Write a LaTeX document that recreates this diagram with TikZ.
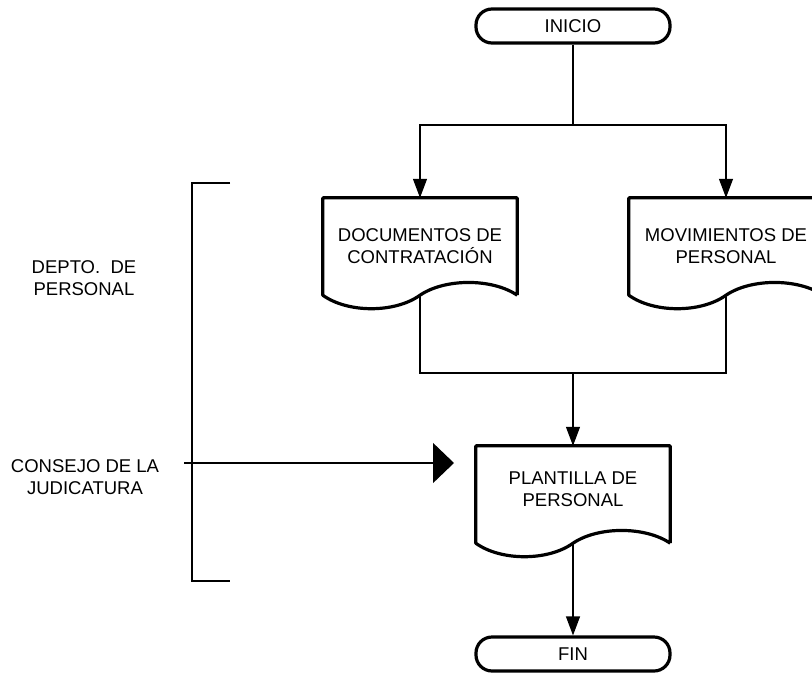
\documentclass[tikz,border=0pt]{standalone}
\usepackage{fontspec}
\setmainfont{Liberation Sans}
\usetikzlibrary{arrows.meta}

\tikzset{
    terminal/.style={draw, line width=3.2pt, rounded corners=16pt, minimum width=194pt, minimum height=34pt, inner sep=0pt},
    docnode/.style={minimum width=194pt, minimum height=97pt, inner sep=0pt, align=center},
    docborder/.style={line width=3.2pt, line join=round},
    sidelabel/.style={align=center},
    flow/.style={line width=1.2pt},
    flowarrow/.style={flow, -{Triangle[length=19pt,width=14pt]}},
    bigarrow/.style={flow, -{Triangle[length=21pt,width=40pt]}}
}

% document symbol round a docnode
\newcommand{\docoutline}[1]{%
    \draw[docborder] (#1.south east) -- (#1.north east) -- (#1.north west) -- (#1.south west)
        .. controls +(25,18) and +(-25,18) .. (#1.south)
        .. controls +(25,-17) and +(-25,-17) .. (#1.south east);
}

\begin{document}
\begin{tikzpicture}[x=1pt, y=-1pt, every node/.style={font=\fontsize{18.5}{22}\selectfont}]
    \useasboundingbox (0,0) rectangle (812,681);

    \node[terminal] (inicio) at (573,26) {INICIO};

    \node[docnode] (contrat) at (420,246.5) {DOCUMENTOS DE\\CONTRATACIÓN};
    \node[docnode] (movim) at (726,246.5) {MOVIMIENTOS DE\\PERSONAL};
    \node[docnode] (plantilla) at (573,494.5) {PLANTILLA DE\\PERSONAL\\[-12pt]};
    \docoutline{contrat}
    \docoutline{movim}
    \docoutline{plantilla}

    \node[terminal] (fin) at (573,654) {FIN};

    % left side
    \node[sidelabel] (depto) at (84,278) {DEPTO.\ \ DE\\PERSONAL};
    \node[sidelabel] (consejo) at (85,477) {CONSEJO DE LA\\JUDICATURA};
    \draw[flow] (230,183) -- (192,183) -- (192,581) -- (230,581);

    \coordinate (split) at (573,125);
    \coordinate (merge) at (573,373);
    \coordinate (cjin) at (184,463);
    \coordinate (cjout) at (454,463);

    \draw[flow] (inicio) -- (split);
    \draw[flowarrow] (split) -| (contrat.north);
    \draw[flowarrow] (split) -| (movim.north);

    \draw[flow] (contrat.south) |- (merge);
    \draw[flow] (movim.south) |- (merge);
    \draw[flowarrow] (merge) -- (plantilla.north);

    \draw[bigarrow] (cjin) -- (cjout);

    \draw[flowarrow] (plantilla.south) -- (fin.north);

%    \draw[gray!30, step=50] (0,0) grid (812,681);

\end{tikzpicture}
\end{document}
